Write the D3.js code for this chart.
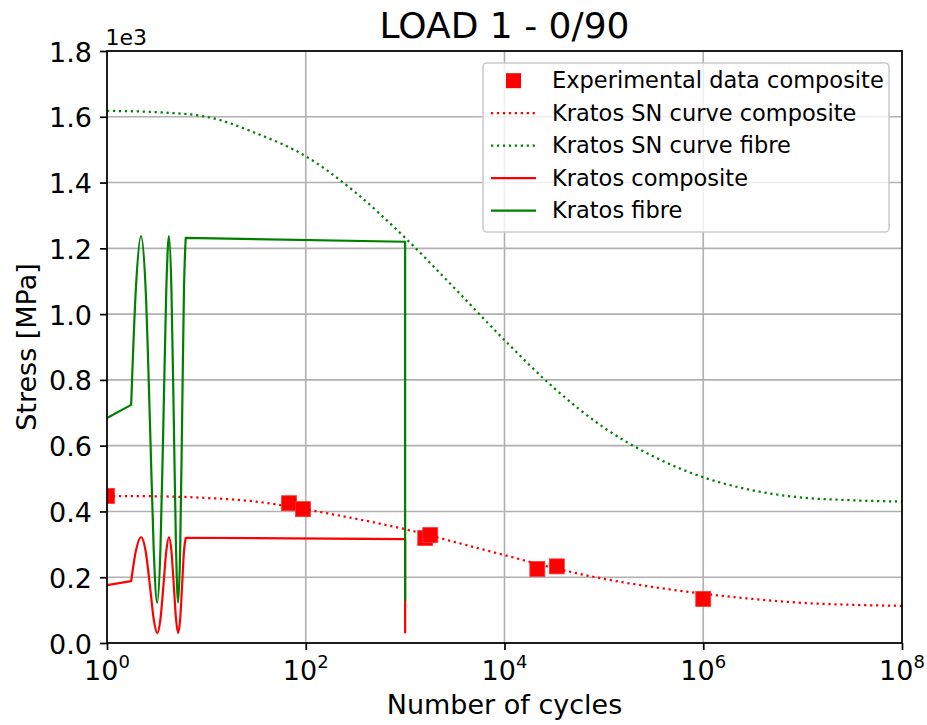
<!DOCTYPE html>
<html><head><meta charset="utf-8">
<script src="https://cdn.jsdelivr.net/npm/d3@7"></script>
<style>
body{margin:0;background:#fff}
text{font-family:"DejaVu Sans",sans-serif;fill:#000}
</style>
</head><body>
<svg id="c" width="927" height="725"></svg>
<script>
// ---------- data ----------
const title = "LOAD 1 - 0/90";
const xLabel = "Number of cycles";
const yLabel = "Stress [MPa]";
const xTickExps = [0, 2, 4, 6, 8];
const yTicks = [0, 200, 400, 600, 800, 1000, 1200, 1400, 1600, 1800];

// Experimental data composite
const expN = [1, 68, 94, 1594, 1790, 21400, 33600, 1000000];
const expS = [447, 425, 407, 319, 328, 225, 233, 134];

// SN curves (sampled every half decade)
const snN = [1, 3.162, 10, 31.62, 100, 316.2, 1000, 3162, 1e4, 3.162e4, 1e5, 3.162e5, 1e6, 3.162e6, 1e7, 3.162e7, 1e8];
const snCompositeS = [447, 446, 441, 430, 406, 378, 346, 307, 267, 228, 195, 170, 150, 134, 122, 116, 113];
const snFibreS = [1618, 1614, 1600, 1550, 1480, 1370, 1232, 1078, 921, 775, 655, 567, 504, 464, 442, 434, 430];

// Kratos time histories
const kratosN = [1, 1.75, 1.95, 2.2, 2.45, 2.7, 2.95, 3.2, 3.45, 3.7, 3.95, 4.2, 4.45, 4.7, 4.95, 5.2, 5.45, 5.7, 5.95, 6.2, 1000, 1000];
const kratosCompositeS = [176, 188, 279, 322, 279, 176, 73, 30, 73, 176, 279, 322, 279, 176, 73, 30, 73, 176, 279, 320, 316, 30];
const kratosFibreS = [684, 724, 1074, 1237, 1074, 680, 286, 123, 286, 680, 1074, 1237, 1074, 680, 286, 123, 286, 680, 1074, 1232, 1220, 128];

const legendLabels = ["Experimental data composite", "Kratos SN curve composite", "Kratos SN curve fibre", "Kratos composite", "Kratos fibre"];

// ---------- layout ----------
const L = 107, R = 902, T = 51, B = 643;
const RED = "#ff0000", GREEN = "#008000";
const svg = d3.select("#c");
svg.append("rect").attr("width", 927).attr("height", 725).attr("fill", "#fff");

const x = d3.scaleLog().domain([1, 1e8]).range([L, R]);
const y = d3.scaleLinear().domain([0, 1800]).range([B, T]);

svg.append("clipPath").attr("id", "clip").append("rect")
  .attr("x", L).attr("y", T).attr("width", R - L).attr("height", B - T);

// grid
const grid = svg.append("g").attr("stroke", "#b0b0b0").attr("stroke-width", 1.6);
xTickExps.forEach(e => {
  grid.append("line").attr("x1", x(Math.pow(10, e))).attr("x2", x(Math.pow(10, e)))
    .attr("y1", T).attr("y2", B);
});
yTicks.forEach(v => {
  grid.append("line").attr("x1", L).attr("x2", R).attr("y1", y(v)).attr("y2", y(v));
});

const plot = svg.append("g").attr("clip-path", "url(#clip)");

// experimental markers
const ms = 15;
plot.selectAll("rect.exp").data(expN.map((n, i) => [n, expS[i]])).enter().append("rect")
  .attr("class", "exp")
  .attr("x", d => x(d[0]) - ms / 2).attr("y", d => y(d[1]) - ms / 2)
  .attr("width", ms).attr("height", ms)
  .attr("fill", RED).attr("stroke", "#ff3333").attr("stroke-width", 0.8);

const lin = d3.line().x(d => x(d[0])).y(d => y(d[1]));
const smooth = d3.line().curve(d3.curveMonotoneX).x(d => x(d[0])).y(d => y(d[1]));

function snPath(S, color) {
  plot.append("path").attr("d", smooth(snN.map((n, i) => [n, S[i]])))
    .attr("fill", "none").attr("stroke", color).attr("stroke-width", 2.25)
    .attr("stroke-dasharray", "2.25,3.7");
}
snPath(snCompositeS, RED);
snPath(snFibreS, GREEN);

function kratosPath(S, color) {
  const pts = kratosN.map((n, i) => [n, S[i]]);
  const d = lin(pts.slice(0, 2)) +
    smooth(pts.slice(1, 20)).replace(/^M/, "L") +
    lin(pts.slice(19)).replace(/^M/, "L");
  plot.append("path").attr("d", d).attr("fill", "none").attr("stroke", color)
    .attr("stroke-width", 2.2).attr("stroke-linejoin", "round");
}
kratosPath(kratosCompositeS, RED);
kratosPath(kratosFibreS, GREEN);

// axes
const xAxis = d3.axisBottom(x).tickValues(xTickExps.map(e => Math.pow(10, e)))
  .tickSize(7).tickFormat("");
const gx = svg.append("g").attr("transform", `translate(0,${B})`).call(xAxis);
gx.select(".domain").remove();
gx.selectAll(".tick line").attr("stroke", "#000").attr("stroke-width", 1.7);
xTickExps.forEach(e => {
  const t = svg.append("text").attr("x", x(Math.pow(10, e))).attr("y", 680)
    .attr("text-anchor", "middle").attr("font-size", 27);
  t.append("tspan").text("10");
  t.append("tspan").attr("dy", -12).attr("font-size", 18).text(String(e));
});

const yAxis = d3.axisLeft(y).tickValues(yTicks).tickSize(7).tickPadding(8)
  .tickFormat(v => (v / 1000).toFixed(1));
const gy = svg.append("g").attr("transform", `translate(${L},0)`).call(yAxis);
gy.select(".domain").remove();
gy.selectAll(".tick line").attr("stroke", "#000").attr("stroke-width", 1.7);
gy.selectAll(".tick text").attr("font-size", 27).attr("dy", "0.37em")
  .attr("font-family", "DejaVu Sans, sans-serif").attr("fill", "#000");

// spines
svg.append("rect").attr("x", L).attr("y", T).attr("width", R - L).attr("height", B - T)
  .attr("fill", "none").attr("stroke", "#000").attr("stroke-width", 1.7);

// offset text
svg.append("text").attr("x", 105.5).attr("y", 45).attr("font-size", 22).text("1e3");

// title & labels
svg.append("text").attr("x", (L + R) / 2).attr("y", 38).attr("text-anchor", "middle")
  .attr("font-size", 36).text(title);
svg.append("text").attr("x", (L + R) / 2).attr("y", 714).attr("text-anchor", "middle")
  .attr("font-size", 27).text(xLabel);
svg.append("text").attr("transform", `translate(36,${(T + B) / 2}) rotate(-90)`)
  .attr("text-anchor", "middle").attr("font-size", 27).text(yLabel);

// legend
const lg = svg.append("g");
lg.append("rect").attr("x", 483).attr("y", 63).attr("width", 406).attr("height", 169)
  .attr("rx", 4).attr("fill", "#fff").attr("fill-opacity", 0.8)
  .attr("stroke", "#cccccc").attr("stroke-width", 1.6);
const rowY = [80.7, 113.2, 145.7, 178.2, 210.7];
const styles = [
  {type: "marker", color: RED},
  {type: "dot", color: RED},
  {type: "dot", color: GREEN},
  {type: "line", color: RED},
  {type: "line", color: GREEN}
];
legendLabels.forEach((lab, i) => {
  const cy = rowY[i], s = styles[i];
  if (s.type === "marker") {
    lg.append("rect").attr("x", 513.5 - ms / 2).attr("y", cy - ms / 2)
      .attr("width", ms).attr("height", ms).attr("fill", s.color);
  } else {
    const ln = lg.append("line").attr("x1", 491).attr("x2", 536).attr("y1", cy).attr("y2", cy)
      .attr("stroke", s.color).attr("stroke-width", 2.25);
    if (s.type === "dot") ln.attr("stroke-dasharray", "2.25,3.7");
  }
  lg.append("text").attr("x", 552).attr("y", cy + 7.4).attr("font-size", 22.5).text(lab);
});
</script>
</body></html>
